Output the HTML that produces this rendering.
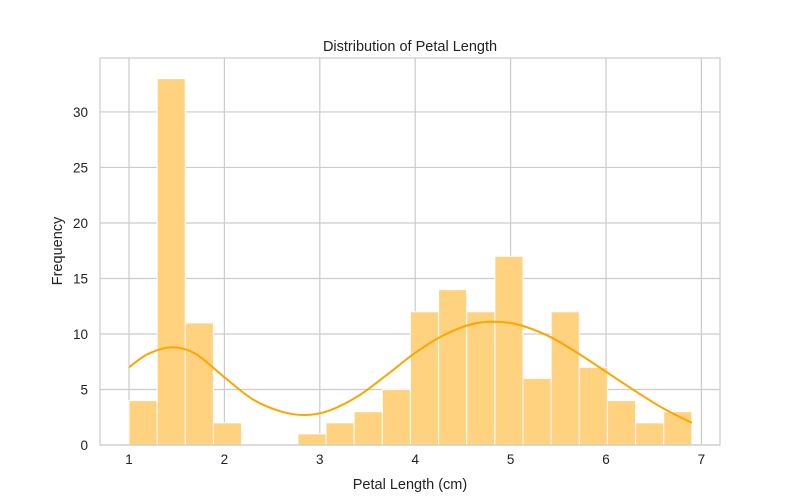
<!DOCTYPE html>
<html><head><meta charset="utf-8"><style>
body{margin:0;background:#fff;}
svg{display:block;font-family:"Liberation Sans","DejaVu Sans",sans-serif;}
</style></head><body>
<svg id="chart" width="800" height="500">
<text x="410" y="51" text-anchor="middle" font-size="14.5" fill="#222">Distribution of Petal Length</text>
<text x="410" y="489" text-anchor="middle" font-size="14.5" fill="#222">Petal Length (cm)</text>
<text transform="translate(62,251) rotate(-90)" text-anchor="middle" font-size="14.5" fill="#222">Frequency</text>
<g id="grid"></g><g id="bars"></g><g id="kde"></g><g id="ticks"></g>
<rect x="100" y="58" width="620" height="387" fill="none" stroke="#ccc" stroke-width="1.2"/>
</svg>
<script>
const binStart = 1.0;
const binWidth = 0.295;
const counts = [4,33,11,2,0,0,1,2,3,5,12,14,12,17,6,12,7,4,2,3];
const kdeX = [1.0,1.2,1.45,1.7,2.0,2.3,2.6,2.85,3.1,3.4,3.7,4.0,4.3,4.6,4.85,5.1,5.4,5.7,6.0,6.3,6.6,6.9];
const kdeY = [7.0,8.2,8.8,8.2,6.1,4.1,3.0,2.7,3.1,4.4,6.3,8.3,9.9,10.9,11.1,10.8,9.8,8.3,6.6,4.9,3.3,2.0];
const xTicks = [1,2,3,4,5,6,7];
const yTicks = [0,5,10,15,20,25,30];
const X0=100,X1=720,Y0=445,Y1=58;
const xs = v => 129 + (v-1)*95.4;
const ys = v => Y0 - v*(Y0-Y1)/34.86;
const ns="http://www.w3.org/2000/svg";
function mk(tag,attrs,parent){const e=document.createElementNS(ns,tag);for(const k in attrs)e.setAttribute(k,attrs[k]);document.getElementById(parent).appendChild(e);return e;}
xTicks.forEach(t=>{
  const l=mk('line',{x1:xs(t),x2:xs(t),y1:Y1,y2:Y0,stroke:'#ccc','stroke-width':1.2},'grid');
  
  
  const tx=mk('text',{x:xs(t),y:Y0+19,'text-anchor':'middle','font-size':13.5,fill:'#222'},'ticks');
  tx.textContent=t;
  
  
});
yTicks.forEach(t=>{
  const l=mk('line',{x1:X0,x2:X1,y1:ys(t),y2:ys(t),stroke:'#ccc','stroke-width':1.2},'grid');
  
  
  const tx=mk('text',{x:X0-12,y:ys(t)+5,'text-anchor':'end','font-size':13.5,fill:'#222'},'ticks');
  tx.textContent=t;
  
  
});
counts.forEach((c,i)=>{
  if(c<=0)return;
  const a=binStart+i*binWidth,b=a+binWidth;
  const r=mk('rect',{x:xs(a),y:ys(c),width:xs(b)-xs(a),height:Y0-ys(c),fill:'#FFD280',stroke:'#fff','stroke-width':1},'bars');
  
  
});
const P=kdeX.map((x,i)=>[xs(x),ys(kdeY[i])]);
let d=`M${P[0][0]},${P[0][1]}`;
for(let i=0;i<P.length-1;i++){
  const p0=P[Math.max(0,i-1)],p1=P[i],p2=P[i+1],p3=P[Math.min(P.length-1,i+2)];
  const c1=[p1[0]+(p2[0]-p0[0])/6,p1[1]+(p2[1]-p0[1])/6];
  const c2=[p2[0]-(p3[0]-p1[0])/6,p2[1]-(p3[1]-p1[1])/6];
  d+=` C${c1[0]},${c1[1]} ${c2[0]},${c2[1]} ${p2[0]},${p2[1]}`;
}
const path=mk('path',{d:d,fill:'none',stroke:'#FFA500','stroke-width':2},'kde');


</script>
</body></html>
